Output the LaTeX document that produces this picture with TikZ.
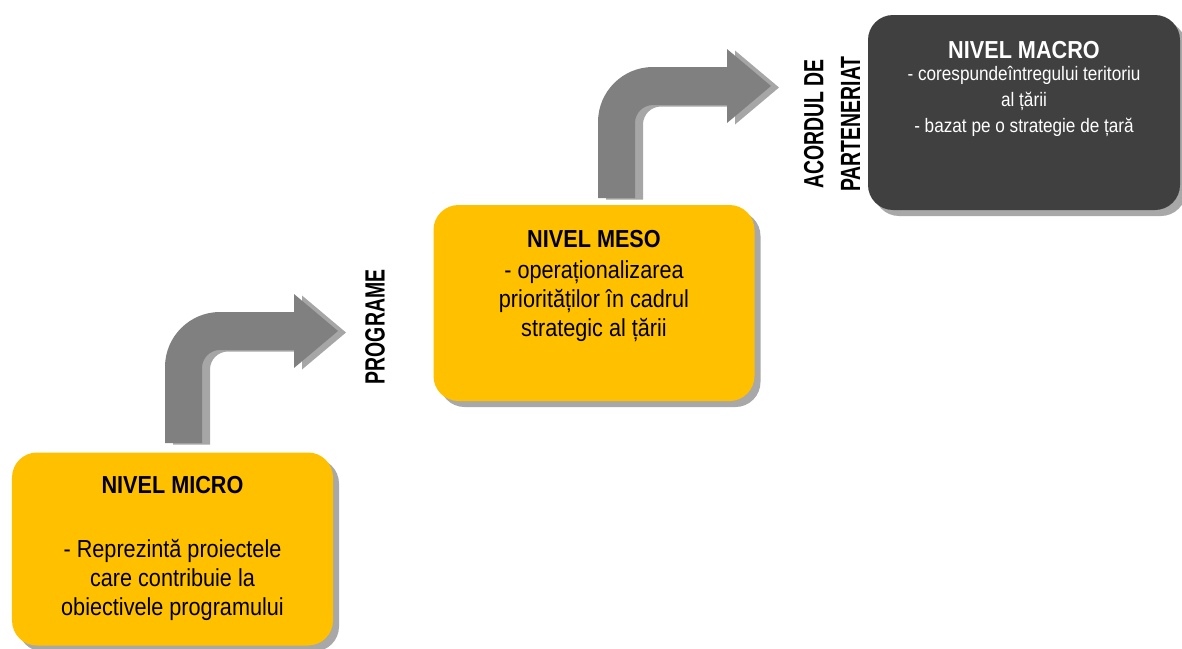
\documentclass[tikz,border=0pt]{standalone}
\usepackage{fontspec}
\setmainfont{Liberation Sans}[FakeStretch=0.88]
\newfontfamily\condensedfont{Liberation Sans}[FakeStretch=0.7]
\usetikzlibrary{shadows}
\definecolor{levelyellow}{HTML}{FFC000}
\definecolor{leveldark}{HTML}{404040}
\definecolor{arrowdark}{HTML}{808080}
\definecolor{arrowlight}{HTML}{A6A6A6}
\definecolor{boxshadow}{HTML}{A8A8A8}

% outline of the bent block arrow, origin at the foot of the stem
\newcommand{\bentarrowpath}{(0,0) -- (0,1.52) arc[start angle=180,end angle=90,radius=1.1] -- (2.58,2.62) -- (2.58,2.98) -- (3.46,2.24) -- (2.58,1.5) -- (2.58,1.86) -- (1.1,1.86) arc[start angle=90,end angle=180,radius=0.36] -- (0.74,0) -- cycle}

\tikzset{
  levelbox/.style={rectangle, rounded corners=0.5cm, inner sep=0pt, minimum width=6.42cm, minimum height=3.86cm,
    general shadow={fill=boxshadow, shadow xshift=0.12cm, shadow yshift=-0.12cm}},
  leveltitle/.style={font=\fontsize{14}{16}\selectfont\bfseries, inner sep=0pt},
  leveltext/.style={font=\fontsize{14}{16.5}\selectfont, align=center, inner sep=0pt},
  sidelabel/.style={font=\condensedfont\fontsize{15.8}{21}\selectfont\bfseries, rotate=90, align=center, inner sep=0pt},
  bentarrow/.pic={
    \fill[arrowlight, xshift=0.16cm, yshift=-0.03cm] \bentarrowpath;
    \fill[arrowdark] \bentarrowpath;
  }
}

\begin{document}
\begin{tikzpicture}
\useasboundingbox (0,0) rectangle (23.64,-12.96);

% the three levels
\node[levelbox, fill=levelyellow] (micro) at (3.45,-10.98) {};
\node[levelbox, fill=levelyellow, minimum height=3.92cm] (meso) at (11.88,-6.06) {};
\node[levelbox, fill=leveldark, minimum width=6.24cm, minimum height=3.9cm] (macro) at (20.48,-2.25) {};

\node[leveltitle] (microtitle) at ([yshift=-0.66cm]micro.north) {NIVEL MICRO};
\node[leveltext] (microtext) at ([yshift=-2.56cm]micro.north) {- Reprezintă proiectele\\care contribuie la\\obiectivele programului};

\node[leveltitle] (mesotitle) at ([yshift=-0.68cm]meso.north) {NIVEL MESO};
\node[leveltext] (mesotext) at ([yshift=-1.94cm]meso.north) {- operaționalizarea\\priorităților în cadrul\\strategic al țării};

\node[leveltitle, text=white] (macrotitle) at ([yshift=-0.7cm]macro.north) {NIVEL MACRO};
\node[leveltext, text=white, font=\fontsize{11.1}{14.7}\selectfont] (macrotext) at ([yshift=-1.74cm]macro.north) {- corespundeîntregului teritoriu\\al țării\\- bazat pe o strategie de țară};

% arrows between levels
\coordinate (arrowone) at (3.3,-8.86);
\coordinate (arrowtwo) at (11.96,-3.96);
\pic at (arrowone) {bentarrow};
\pic at (arrowtwo) {bentarrow};

\node[sidelabel] (programe) at (7.5,-6.54) {PROGRAME};
\node[sidelabel] (acord) at (16.64,-2.48) {ACORDUL DE\\PARTENERIAT};
\end{tikzpicture}
\end{document}
